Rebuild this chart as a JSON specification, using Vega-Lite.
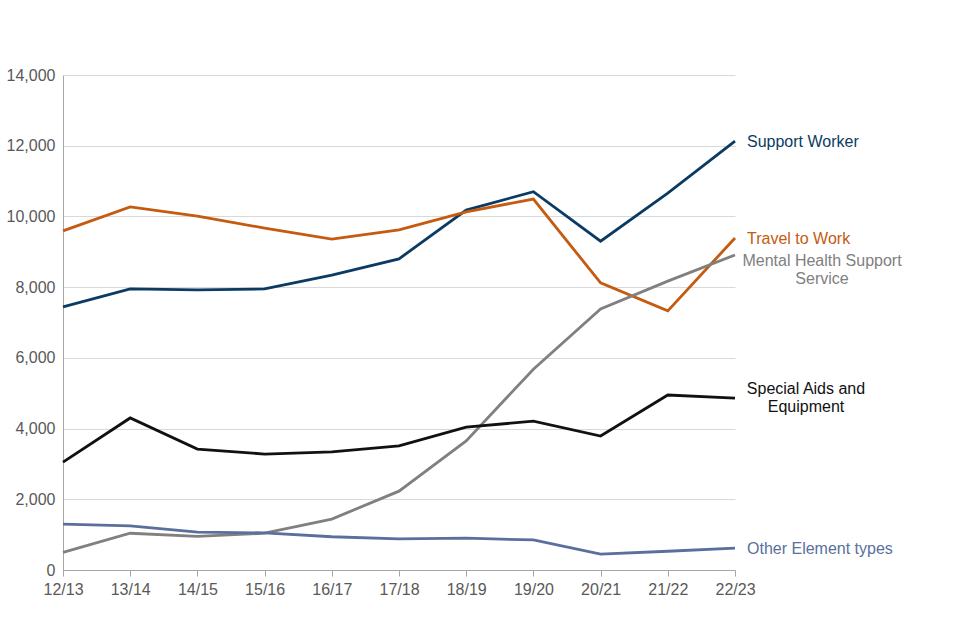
{
  "$schema": "https://vega.github.io/schema/vega-lite/v6.json",
  "autosize": "none",
  "width": 672,
  "height": 495,
  "padding": {"left": 63, "top": 75, "right": 225, "bottom": 70},
  "background": "white",
  "config": {
    "view": {"stroke": null},
    "font": "Liberation Sans"
  },
  "datasets": {
    "series": [
      {"year": "12/13", "type": "Support Worker", "value": 7440},
      {"year": "13/14", "type": "Support Worker", "value": 7950},
      {"year": "14/15", "type": "Support Worker", "value": 7920},
      {"year": "15/16", "type": "Support Worker", "value": 7950},
      {"year": "16/17", "type": "Support Worker", "value": 8340},
      {"year": "17/18", "type": "Support Worker", "value": 8800},
      {"year": "18/19", "type": "Support Worker", "value": 10180},
      {"year": "19/20", "type": "Support Worker", "value": 10700},
      {"year": "20/21", "type": "Support Worker", "value": 9300},
      {"year": "21/22", "type": "Support Worker", "value": 10660},
      {"year": "22/23", "type": "Support Worker", "value": 12130},
      {"year": "12/13", "type": "Travel to Work", "value": 9590},
      {"year": "13/14", "type": "Travel to Work", "value": 10270},
      {"year": "14/15", "type": "Travel to Work", "value": 10010},
      {"year": "15/16", "type": "Travel to Work", "value": 9670},
      {"year": "16/17", "type": "Travel to Work", "value": 9360},
      {"year": "17/18", "type": "Travel to Work", "value": 9620},
      {"year": "18/19", "type": "Travel to Work", "value": 10130},
      {"year": "19/20", "type": "Travel to Work", "value": 10490},
      {"year": "20/21", "type": "Travel to Work", "value": 8120},
      {"year": "21/22", "type": "Travel to Work", "value": 7330},
      {"year": "22/23", "type": "Travel to Work", "value": 9390},
      {"year": "12/13", "type": "Mental Health Support Service", "value": 500},
      {"year": "13/14", "type": "Mental Health Support Service", "value": 1040},
      {"year": "14/15", "type": "Mental Health Support Service", "value": 950},
      {"year": "15/16", "type": "Mental Health Support Service", "value": 1040},
      {"year": "16/17", "type": "Mental Health Support Service", "value": 1440},
      {"year": "17/18", "type": "Mental Health Support Service", "value": 2230},
      {"year": "18/19", "type": "Mental Health Support Service", "value": 3650},
      {"year": "19/20", "type": "Mental Health Support Service", "value": 5680},
      {"year": "20/21", "type": "Mental Health Support Service", "value": 7380},
      {"year": "21/22", "type": "Mental Health Support Service", "value": 8170},
      {"year": "22/23", "type": "Mental Health Support Service", "value": 8910},
      {"year": "12/13", "type": "Special Aids and Equipment", "value": 3050},
      {"year": "13/14", "type": "Special Aids and Equipment", "value": 4300},
      {"year": "14/15", "type": "Special Aids and Equipment", "value": 3420},
      {"year": "15/16", "type": "Special Aids and Equipment", "value": 3280},
      {"year": "16/17", "type": "Special Aids and Equipment", "value": 3340},
      {"year": "17/18", "type": "Special Aids and Equipment", "value": 3510},
      {"year": "18/19", "type": "Special Aids and Equipment", "value": 4040},
      {"year": "19/20", "type": "Special Aids and Equipment", "value": 4210},
      {"year": "20/21", "type": "Special Aids and Equipment", "value": 3790},
      {"year": "21/22", "type": "Special Aids and Equipment", "value": 4950},
      {"year": "22/23", "type": "Special Aids and Equipment", "value": 4860},
      {"year": "12/13", "type": "Other Element types", "value": 1300},
      {"year": "13/14", "type": "Other Element types", "value": 1250},
      {"year": "14/15", "type": "Other Element types", "value": 1070},
      {"year": "15/16", "type": "Other Element types", "value": 1050},
      {"year": "16/17", "type": "Other Element types", "value": 940},
      {"year": "17/18", "type": "Other Element types", "value": 880},
      {"year": "18/19", "type": "Other Element types", "value": 900},
      {"year": "19/20", "type": "Other Element types", "value": 850},
      {"year": "20/21", "type": "Other Element types", "value": 450},
      {"year": "21/22", "type": "Other Element types", "value": 530},
      {"year": "22/23", "type": "Other Element types", "value": 620}
    ],
    "labels": [
      {"year": "22/23", "type": "Support Worker", "label": "Support Worker", "value": 12100},
      {"year": "22/23", "type": "Travel to Work", "label": "Travel to Work", "value": 9360},
      {"year": "22/23", "type": "Other Element types", "label": "Other Element types", "value": 590}
    ],
    "mhLabel": [
      {"year": "22/23", "type": "Mental Health Support Service", "label": "Mental Health Support\nService", "value": 8740}
    ],
    "saLabel": [
      {"year": "22/23", "type": "Special Aids and Equipment", "label": "Special Aids and\nEquipment", "value": 5120}
    ]
  },
  "encoding": {
    "x": {
      "field": "year",
      "type": "ordinal",
      "scale": {"type": "point", "padding": 0},
      "axis": {
        "title": null,
        "labelAngle": 0,
        "labelFontSize": 16,
        "labelColor": "#595959",
        "labelPadding": 5,
        "tickColor": "#a6a6a6",
        "tickSize": 6,
        "domainColor": "#a6a6a6",
        "grid": false
      }
    },
    "y": {
      "field": "value",
      "type": "quantitative",
      "scale": {"domain": [0, 14000], "nice": false},
      "axis": {
        "title": null,
        "values": [0, 2000, 4000, 6000, 8000, 10000, 12000, 14000],
        "format": ",.0f",
        "labelFontSize": 16,
        "labelColor": "#595959",
        "labelPadding": 8,
        "ticks": false,
        "domainColor": "#a6a6a6",
        "gridColor": "#d9d9d9"
      }
    },
    "color": {
      "field": "type",
      "type": "nominal",
      "legend": null,
      "scale": {
        "domain": ["Support Worker", "Travel to Work", "Mental Health Support Service", "Special Aids and Equipment", "Other Element types"],
        "range": ["#0b3b63", "#c55a11", "#808080", "#111111", "#5a6f9c"]
      }
    }
  },
  "layer": [
    {
      "data": {"name": "series"},
      "mark": {"type": "line", "strokeWidth": 2.8}
    },
    {
      "data": {"name": "labels"},
      "mark": {"type": "text", "align": "left", "baseline": "middle", "dx": 12, "fontSize": 16},
      "encoding": {"text": {"field": "label"}}
    },
    {
      "data": {"name": "mhLabel"},
      "mark": {"type": "text", "align": "center", "baseline": "middle", "dx": 87, "fontSize": 16, "lineBreak": "\n", "lineHeight": 18},
      "encoding": {"text": {"field": "label"}}
    },
    {
      "data": {"name": "saLabel"},
      "mark": {"type": "text", "align": "center", "baseline": "middle", "dx": 71, "fontSize": 16, "lineBreak": "\n", "lineHeight": 18},
      "encoding": {"text": {"field": "label"}}
    }
  ]
}
